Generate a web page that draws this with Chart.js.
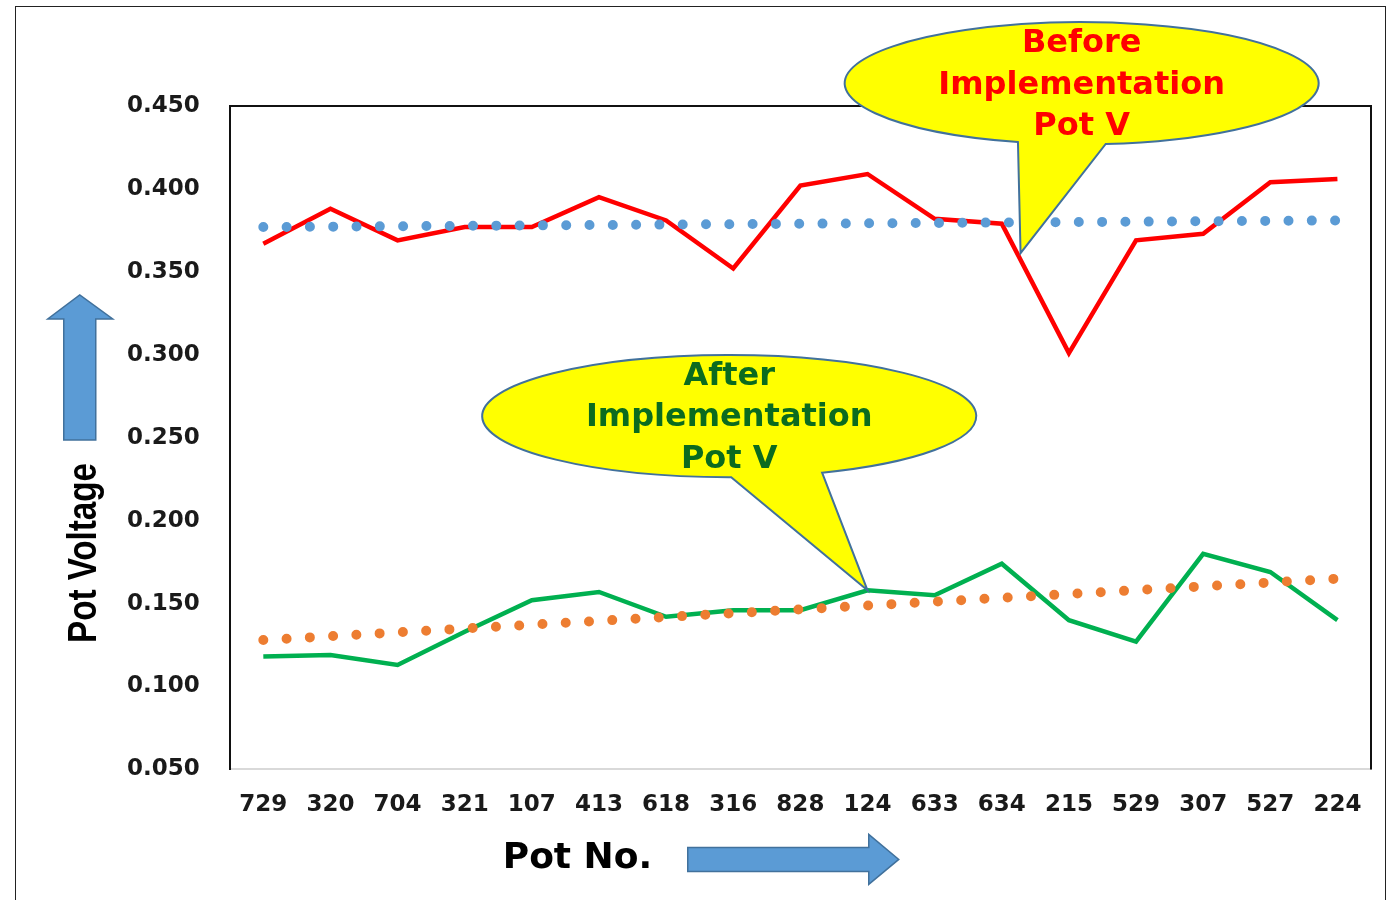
<!DOCTYPE html>
<html>
<head>
<meta charset="utf-8">
<title>Pot Voltage</title>
<script src="https://cdn.jsdelivr.net/npm/chart.js@4.4.1/dist/chart.umd.min.js"></script>
<style>
  html, body { margin: 0; padding: 0; background: #fff; }
  #wrap { position: relative; width: 1390px; height: 900px; overflow: hidden; }
  #frame {
    position: absolute; left: 15px; top: 6px; width: 1369px; height: 900px;
    border: 1.5px solid #222; border-bottom: none; pointer-events: none;
  }
  canvas { display: block; }
</style>
</head>
<body>
<div id="wrap">
  <canvas id="potChart" width="1390" height="900"></canvas>
  <div id="frame"></div>
</div>
<script>
const potNumbers = ["729", "320", "704", "321", "107", "413", "618", "316", "828",
                    "124", "633", "634", "215", "529", "307", "527", "224"];

// pot voltage before / after implementation
const beforeVoltage = [0.367, 0.388, 0.369, 0.377, 0.377, 0.395, 0.381, 0.352, 0.402,
                       0.409, 0.382, 0.379, 0.301, 0.369, 0.373, 0.404, 0.406];
const afterVoltage  = [0.118, 0.119, 0.113, 0.133, 0.152, 0.157, 0.142, 0.146, 0.146,
                       0.158, 0.155, 0.174, 0.140, 0.127, 0.180, 0.169, 0.140];

// dotted trend lines (ends)
const beforeTrend = [0.377, null, null, null, null, null, null, null, null,
                     null, null, null, null, null, null, null, 0.381];
const afterTrend  = [0.128, null, null, null, null, null, null, null, null,
                     null, null, null, null, null, null, null, 0.165];

const yMin = 0.05, yMax = 0.45, yStep = 0.05;

// speech bubbles, in data units (x = category index, y = voltage)
const callouts = [
  { lines: ["Before", "Implementation", "Pot V"], color: "#ff0000",
    cx: 12.19, cy: 0.4637, rx: 3.53, ry: 0.0368,
    tip: [11.28, 0.3613], baseL: [11.21, 0.4271], baseR: [12.56, 0.4259] },
  { lines: ["After", "Implementation", "Pot V"], color: "#0b6b1f",
    cx: 6.94, cy: 0.263, rx: 3.68, ry: 0.0368,
    tip: [9, 0.158], baseL: [6.97, 0.2256], baseR: [8.36, 0.228] }
];

function drawBubble(ctx, c, xs, ys) {
  const cx = xs.getPixelForValue(c.cx), cy = ys.getPixelForValue(c.cy);
  const rx = xs.getPixelForValue(c.cx + c.rx) - cx;
  const ry = ys.getPixelForValue(c.cy - c.ry) - cy;
  const ang = p => Math.atan2((ys.getPixelForValue(p[1]) - cy) / ry,
                              (xs.getPixelForValue(p[0]) - cx) / rx);
  const aL = ang(c.baseL), aR = ang(c.baseR);
  const tx = xs.getPixelForValue(c.tip[0]), ty = ys.getPixelForValue(c.tip[1]);

  ctx.save();
  ctx.beginPath();
  ctx.ellipse(cx, cy, rx, ry, 0, aL, aR, false);
  ctx.lineTo(tx, ty);
  ctx.closePath();
  ctx.fillStyle = "#ffff00";
  ctx.fill();
  ctx.lineWidth = 2;
  ctx.strokeStyle = "#41719c";
  ctx.stroke();

  ctx.fillStyle = c.color;
  ctx.font = "bold 32px 'DejaVu Sans', Verdana, sans-serif";
  ctx.textAlign = "center";
  ctx.textBaseline = "middle";
  c.lines.forEach((t, i) => ctx.fillText(t, cx, cy + 2 + (i - 1) * 41.5));
  ctx.restore();
}

function blockArrow(ctx, pts) {
  ctx.beginPath();
  pts.forEach((p, i) => i ? ctx.lineTo(p[0], p[1]) : ctx.moveTo(p[0], p[1]));
  ctx.closePath();
  ctx.fillStyle = "#5b9bd5";
  ctx.fill();
  ctx.lineWidth = 1.5;
  ctx.strokeStyle = "#41719c";
  ctx.stroke();
}

const decorPlugin = {
  id: "decor",
  beforeDatasetsDraw(chart) {
    const { ctx, chartArea: a } = chart;
    // top and right edges of the plot box
    ctx.save();
    ctx.strokeStyle = "#111";
    ctx.lineWidth = 2;
    ctx.beginPath();
    ctx.moveTo(a.left, a.top);
    ctx.lineTo(a.right, a.top);
    ctx.lineTo(a.right, a.bottom);
    ctx.stroke();
    ctx.restore();
  },
  afterDatasetsDraw(chart) {
    const { ctx, chartArea: a, scales } = chart;
    callouts.forEach(c => drawBubble(ctx, c, scales.x, scales.y));

    ctx.save();
    // y title + up arrow
    const ax = a.left - 150;
    blockArrow(ctx, [[ax - 16, a.top + 334], [ax - 16, a.top + 213], [ax - 32, a.top + 213],
                     [ax, a.top + 189], [ax + 33, a.top + 213], [ax + 16, a.top + 213],
                     [ax + 16, a.top + 334]]);
    ctx.save();
    ctx.translate(a.left - 145, a.top + 447);
    ctx.rotate(-Math.PI / 2);
    ctx.font = "bold 41px 'Liberation Sans', Arial, sans-serif";
    const yt = "Pot Voltage";
    const sc = 180 / ctx.measureText(yt).width;
    ctx.scale(sc, 1);
    ctx.fillStyle = "#000";
    ctx.textAlign = "center";
    ctx.textBaseline = "middle";
    ctx.fillText(yt, 0, 0);
    ctx.restore();

    // x title + right arrow
    const by = a.bottom + 90;
    ctx.font = "bold 36px 'DejaVu Sans', Verdana, sans-serif";
    ctx.fillStyle = "#000";
    ctx.textAlign = "left";
    ctx.textBaseline = "middle";
    ctx.fillText("Pot No.", a.left + 273, by - 1);
    const x0 = a.left + 458;
    blockArrow(ctx, [[x0, by - 12], [x0 + 181, by - 12], [x0 + 181, by - 25], [x0 + 211, by],
                     [x0 + 181, by + 25], [x0 + 181, by + 12], [x0, by + 12]]);
    ctx.restore();
  }
};

new Chart(document.getElementById("potChart"), {
  type: "line",
  data: {
    labels: potNumbers,
    datasets: [
      { label: "Before trend", data: beforeTrend, borderColor: "#5b9bd5",
        borderWidth: 10, borderDash: [0, 23.3], borderCapStyle: "round",
        spanGaps: true, pointRadius: 0, order: 0 },
      { label: "After trend", data: afterTrend, borderColor: "#ed7d31",
        borderWidth: 10, borderDash: [0, 23.3], borderCapStyle: "round",
        spanGaps: true, pointRadius: 0, order: 0 },
      { label: "Before Implementation Pot V", data: beforeVoltage, borderColor: "#ff0000",
        borderWidth: 4.5, pointRadius: 0, tension: 0, order: 1 },
      { label: "After Implementation Pot V", data: afterVoltage, borderColor: "#00b050",
        borderWidth: 4.5, pointRadius: 0, tension: 0, order: 1 }
    ]
  },
  options: {
    responsive: false,
    animation: false,
    devicePixelRatio: 1,
    layout: { padding: { left: 97, top: 106, right: 19, bottom: 59 } },
    plugins: {
      legend: { display: false },
      tooltip: { enabled: false }
    },
    scales: {
      x: {
        offset: true,
        grid: { display: false, drawTicks: false },
        border: { display: true, color: "#d9d9d9", width: 2 },
        ticks: { color: "#1a1a1a", font: { family: "'DejaVu Sans'", size: 23, weight: "bold" },
                 padding: 22, autoSkip: false, maxRotation: 0 }
      },
      y: {
        min: yMin, max: yMax,
        grid: { display: false, drawTicks: false },
        border: { display: true, color: "#111", width: 2 },
        ticks: { stepSize: yStep, color: "#1a1a1a", padding: 30,
                 font: { family: "'DejaVu Sans'", size: 23, weight: "bold" },
                 callback: v => Number(v).toFixed(3) }
      }
    }
  },
  plugins: [decorPlugin]
});
</script>
</body>
</html>
